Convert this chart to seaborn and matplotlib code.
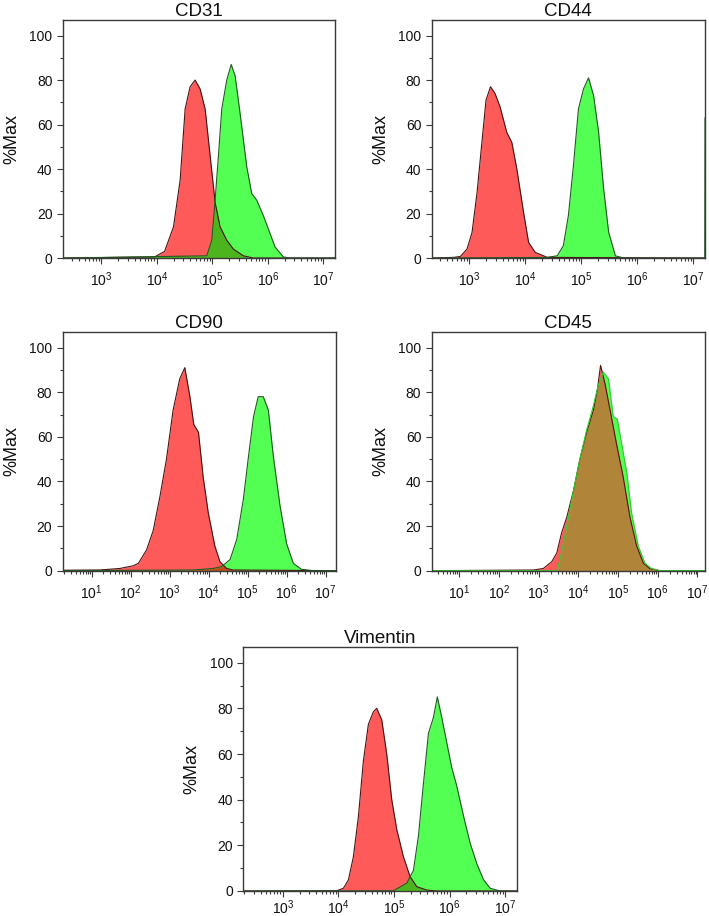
import numpy as np
import pandas as pd
import seaborn as sns
import matplotlib.pyplot as plt
from matplotlib.ticker import LogLocator, LogFormatterMathtext, MultipleLocator, NullFormatter

#%%
# histogram outlines: x in decades (log10 of fluorescence), y in %Max
cd31_red_x = [2.31, 3.96, 4.14, 4.30, 4.42, 4.51, 4.60, 4.69, 4.78, 4.87, 4.96, 5.05, 5.14, 5.26, 5.38, 5.56, 5.74, 7.21]
cd31_red_y = [0, 0.5, 3, 14, 35, 67, 77, 80, 76, 67, 46, 25, 14, 8, 4, 1, 0, 0]
cd31_green_x = [2.31, 4.90, 4.99, 5.05, 5.11, 5.17, 5.26, 5.34, 5.41, 5.50, 5.62, 5.71, 5.80, 5.92, 6.01, 6.13, 6.28, 6.40, 7.21]
cd31_green_y = [0, 1, 8, 26, 46, 67, 80, 87, 82, 65, 41, 29, 26, 19, 13, 5, 0.5, 0, 0]

cd44_red_x = [2.33, 2.335, 2.72, 2.84, 2.96, 3.05, 3.14, 3.23, 3.30, 3.38, 3.46, 3.55, 3.67, 3.76, 3.85, 3.97, 4.06, 4.18, 4.30, 4.39, 7.21]
cd44_red_y = [8.5, 0, 0.3, 0.7, 4, 11.5, 29.5, 53, 71, 77, 74, 68, 56.5, 52, 40, 20.5, 7, 2.5, 1.3, 0.3, 0]
cd44_green_x = [2.33, 4.39, 4.57, 4.68, 4.77, 4.86, 4.95, 5.04, 5.13, 5.22, 5.31, 5.40, 5.49, 5.61, 5.76, 7.205, 7.21]
cd44_green_y = [0, 0.3, 1, 5.5, 19, 41.5, 67, 76, 81, 73, 56.5, 31, 11.5, 1, 0, 0, 63]

cd90_red_x = [0.26, 0.265, 1.21, 1.73, 2.07, 2.20, 2.41, 2.58, 2.75, 2.92, 3.09, 3.26, 3.39, 3.52, 3.62, 3.74, 3.86, 3.99, 4.16, 4.29, 4.46, 4.63, 7.26]
cd90_red_y = [59, 0.2, 0.3, 1, 2.2, 3.3, 9.3, 18, 33, 50, 72, 86, 91, 78, 65.5, 62, 42, 26, 11, 4, 1, 0.3, 0]
cd90_green_x = [0.26, 3.61, 4.12, 4.33, 4.55, 4.72, 4.89, 5.02, 5.15, 5.27, 5.40, 5.53, 5.66, 5.83, 6.00, 6.17, 6.38, 6.68, 7.26]
cd90_green_y = [0, 0.3, 1, 1.8, 5, 14, 32, 51, 69, 78, 78, 72, 51, 29, 12, 3.3, 0.6, 0, 0]

cd45_red_x = [0.31, 2.87, 3.12, 3.33, 3.46, 3.58, 3.71, 3.88, 4.04, 4.21, 4.38, 4.48, 4.56, 4.67, 4.80, 4.96, 5.13, 5.30, 5.47, 5.64, 5.80, 6.05, 7.19]
cd45_red_y = [0, 0.3, 1, 4, 8, 17, 24, 36, 50, 62, 72, 81, 92, 84, 72, 57, 42, 24, 11, 3.3, 0.9, 0, 0]
cd45_green_x = [0.31, 3.46, 3.54, 3.71, 3.88, 4.04, 4.21, 4.38, 4.50, 4.63, 4.76, 4.88, 4.98, 5.09, 5.22, 5.34, 5.51, 5.68, 5.84, 6.05, 7.19]
cd45_green_y = [0, 0, 5, 20, 36, 50, 63, 74, 83, 89, 86, 69, 68, 57, 44, 26, 11, 3.3, 1, 0, 0]

vim_red_x = [2.29, 3.97, 4.09, 4.18, 4.27, 4.36, 4.45, 4.54, 4.63, 4.69, 4.78, 4.87, 4.96, 5.05, 5.17, 5.29, 5.41, 5.59, 5.77, 7.22]
vim_red_y = [0, 0.1, 1.2, 4.8, 15, 32.5, 57, 73, 78.5, 80, 75, 60, 40, 27, 15, 6.3, 1.9, 0.4, 0, 0]
vim_green_x = [2.29, 4.99, 5.23, 5.35, 5.44, 5.53, 5.62, 5.71, 5.78, 5.86, 5.95, 6.04, 6.13, 6.25, 6.37, 6.49, 6.61, 6.73, 6.91, 7.22]
vim_green_y = [0, 0.1, 3.4, 9, 24, 47, 69, 76, 85, 76, 65, 54, 46, 33, 21, 12, 5, 1.2, 0, 0]

titles = ["CD31", "CD44", "CD90", "CD45", "Vimentin"]

#%%
sns.set_theme(style="ticks")
plt.rcParams['font.family'] = ['Liberation Sans', 'DejaVu Sans']
plt.rcParams['mathtext.fontset'] = 'custom'
plt.rcParams['mathtext.rm'] = 'Liberation Sans'
plt.rcParams['mathtext.it'] = 'Liberation Sans:italic'
plt.rcParams['mathtext.bf'] = 'Liberation Sans:bold'

RED = '#ff5a5a'
GREEN = '#52ff52'
DARK = '#3a3a3a'


def draw_panel(ax, title, red_x, red_y, green_x, green_y, xlim, overlap='#4cb41c',
               red_edge='#4a1212', green_edge='#1f5a1f', xpad=5):
    df = pd.concat([
        pd.DataFrame({'fl': 10 ** np.array(red_x), 'pct': red_y, 'stain': 'isotype'}),
        pd.DataFrame({'fl': 10 ** np.array(green_x), 'pct': green_y, 'stain': 'marker'}),
    ])
    ax.set_xscale('log')
    ax.fill_between(10 ** np.array(red_x), 0, red_y, color=RED, lw=0)
    ax.fill_between(10 ** np.array(green_x), 0, green_y, color=GREEN, lw=0)
    # where both histograms overlap
    grid = np.linspace(xlim[0], xlim[1], 800)
    both = np.minimum(np.interp(grid, red_x, red_y), np.interp(grid, green_x, green_y))
    ax.fill_between(10 ** grid, 0, both, color=overlap, lw=0)
    sns.lineplot(data=df, x='fl', y='pct', hue='stain', palette={'isotype': red_edge, 'marker': green_edge},
                 estimator=None, sort=False, legend=False, linewidth=0.8, ax=ax)

    ax.set_xlim(10 ** xlim[0], 10 ** xlim[1])
    ax.set_ylim(0, 107)
    ax.set_title(title, fontsize=13.5, pad=3, color='#111111')
    ax.set_xlabel('')
    ax.set_ylabel('%Max', fontsize=13, color='#111111')
    ax.yaxis.set_label_coords(-0.155, 0.5)
    ax.yaxis.set_major_locator(MultipleLocator(20))
    ax.yaxis.set_minor_locator(MultipleLocator(10))
    ax.xaxis.set_major_locator(LogLocator(base=10, numticks=12))
    ax.xaxis.set_minor_locator(LogLocator(base=10, subs=np.arange(2, 10), numticks=12))
    ax.xaxis.set_major_formatter(LogFormatterMathtext())
    ax.xaxis.set_minor_formatter(NullFormatter())
    ax.tick_params(which='both', direction='out', color=DARK, width=0.8, labelsize=10, labelcolor='#111111')
    ax.tick_params(which='major', length=4)
    ax.tick_params(which='minor', length=2.5)
    ax.tick_params(axis='x', which='major', pad=xpad)
    for sp in ax.spines.values():
        sp.set_visible(True)
        sp.set_color(DARK)
        sp.set_linewidth(1.0)


fig = plt.figure(figsize=(7.09, 9.16), dpi=100)
ax1 = fig.add_axes([0.0889, 0.7183, 0.3836, 0.2599])
ax2 = fig.add_axes([0.6089, 0.7183, 0.3855, 0.2599])
ax3 = fig.add_axes([0.0884, 0.3770, 0.3853, 0.2606])
ax4 = fig.add_axes([0.6089, 0.3770, 0.3855, 0.2606])
ax5 = fig.add_axes([0.3432, 0.0273, 0.3865, 0.2667])

draw_panel(ax1, titles[0], cd31_red_x, cd31_red_y, cd31_green_x, cd31_green_y, (2.31, 7.21))
draw_panel(ax2, titles[1], cd44_red_x, cd44_red_y, cd44_green_x, cd44_green_y, (2.33, 7.21))
draw_panel(ax3, titles[2], cd90_red_x, cd90_red_y, cd90_green_x, cd90_green_y, (0.26, 7.26), overlap='#c0501a')
draw_panel(ax4, titles[3], cd45_red_x, cd45_red_y, cd45_green_x, cd45_green_y, (0.31, 7.19),
           overlap='#b0853a', red_edge='#5a1010', green_edge='#2ecc2e')
draw_panel(ax5, titles[4], vim_red_x, vim_red_y, vim_green_x, vim_green_y, (2.29, 7.22), xpad=1.5)

plt.savefig('out.png', dpi=100)
